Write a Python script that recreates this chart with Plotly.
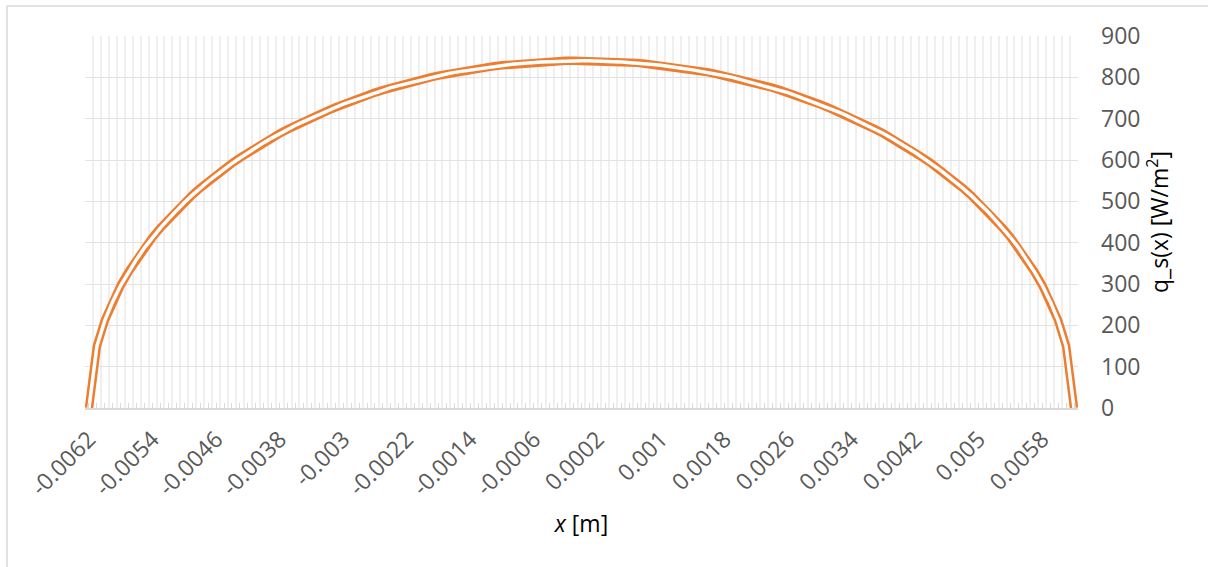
import plotly.graph_objects as go

# Category values of x [m]
x_vals = [
    -0.0062, -0.0061, -0.0060, -0.0059, -0.0058, -0.0057, -0.0056, -0.0055, -0.0054, -0.0053,
    -0.0052, -0.0051, -0.0050, -0.0049, -0.0048, -0.0047, -0.0046, -0.0045, -0.0044, -0.0043,
    -0.0042, -0.0041, -0.0040, -0.0039, -0.0038, -0.0037, -0.0036, -0.0035, -0.0034, -0.0033,
    -0.0032, -0.0031, -0.0030, -0.0029, -0.0028, -0.0027, -0.0026, -0.0025, -0.0024, -0.0023,
    -0.0022, -0.0021, -0.0020, -0.0019, -0.0018, -0.0017, -0.0016, -0.0015, -0.0014, -0.0013,
    -0.0012, -0.0011, -0.0010, -0.0009, -0.0008, -0.0007, -0.0006, -0.0005, -0.0004, -0.0003,
    -0.0002, -0.0001, 0.0000, 0.0001, 0.0002, 0.0003, 0.0004, 0.0005, 0.0006, 0.0007,
    0.0008, 0.0009, 0.0010, 0.0011, 0.0012, 0.0013, 0.0014, 0.0015, 0.0016, 0.0017,
    0.0018, 0.0019, 0.0020, 0.0021, 0.0022, 0.0023, 0.0024, 0.0025, 0.0026, 0.0027,
    0.0028, 0.0029, 0.0030, 0.0031, 0.0032, 0.0033, 0.0034, 0.0035, 0.0036, 0.0037,
    0.0038, 0.0039, 0.0040, 0.0041, 0.0042, 0.0043, 0.0044, 0.0045, 0.0046, 0.0047,
    0.0048, 0.0049, 0.0050, 0.0051, 0.0052, 0.0053, 0.0054, 0.0055, 0.0056, 0.0057,
    0.0058, 0.0059, 0.0060, 0.0061, 0.0062,
]

# q_s(x) [W/m^2]
q_vals = [
    0, 150, 212, 258, 297, 330, 360, 388, 413, 436,
    457, 478, 497, 515, 532, 548, 563, 578, 592, 605,
    618, 630, 642, 653, 664, 674, 684, 693, 702, 711,
    719, 727, 735, 742, 749, 756, 763, 769, 775, 780,
    785, 790, 795, 800, 804, 808, 812, 815, 818, 821,
    824, 827, 829, 831, 833, 835, 836, 837, 838, 839,
    840, 840, 840, 840, 840, 839, 838, 837, 836, 835,
    833, 831, 829, 827, 824, 821, 818, 815, 812, 808,
    804, 800, 795, 790, 785, 780, 775, 769, 763, 756,
    749, 742, 735, 727, 719, 711, 702, 693, 684, 674,
    664, 653, 642, 630, 618, 605, 592, 578, 563, 548,
    532, 515, 497, 478, 457, 436, 413, 388, 360, 330,
    297, 258, 212, 150, 0,
]

tick_labels = [
    "-0.0062", "-0.0054", "-0.0046", "-0.0038", "-0.003", "-0.0022", "-0.0014", "-0.0006",
    "0.0002", "0.001", "0.0018", "0.0026", "0.0034", "0.0042", "0.005", "0.0058",
]

x_pos = list(range(len(x_vals)))
label_lookup = {float(t): t for t in tick_labels}
tick_text = [label_lookup.get(round(v, 4), " ") for v in x_vals]

ORANGE = "#ED7D31"
FONT = "Open Sans"
FS = 23

fig = go.Figure()
# Excel-style double line: thick orange with a thin white core
fig.add_trace(go.Scatter(x=x_pos, y=q_vals, mode="lines",
                         line=dict(color=ORANGE, width=8.5), hoverinfo="skip", showlegend=False))
fig.add_trace(go.Scatter(x=x_pos, y=q_vals, mode="lines",
                         line=dict(color="white", width=3.5), showlegend=False))

fig.update_layout(
    width=1208, height=567,
    margin=dict(l=85, r=130, t=36, b=159),
    paper_bgcolor="white", plot_bgcolor="white",
    font=dict(family=FONT, size=FS, color="#595959"),
    showlegend=False,
    xaxis=dict(
        range=[-0.5, len(x_vals) - 0.5],
        tickmode="array", tickvals=x_pos, ticktext=tick_text,
        tickangle=-45,
        ticks="inside", ticklen=5, tickcolor="#d9d9d9", tickwidth=1,
        showgrid=False, zeroline=False,
        showline=True, linecolor="#d9d9d9", linewidth=1.5,
        tickfont=dict(size=FS, color="#595959"),
        ticklabelstandoff=7,
        minor=dict(tickmode="linear", tick0=-0.5, dtick=1, showgrid=True,
                   gridcolor="#efefef", gridwidth=1.5, ticks=""),
        title=dict(text="<i>x</i> [m]", font=dict(size=FS, color="#000000"), standoff=15),
    ),
    yaxis=dict(
        side="right",
        range=[0, 900], tickmode="linear", tick0=0, dtick=100,
        showgrid=True, gridcolor="#e2e2e2", gridwidth=1,
        zeroline=False, showline=False, ticks="",
        tickfont=dict(size=FS, color="#595959"),
        ticklabelstandoff=22,
        title=dict(text="q_s(x) [W/m<sup>2</sup>]", font=dict(size=FS, color="#000000"), standoff=12),
    ),
    shapes=[
        dict(type="line", xref="paper", yref="paper",
             x0=(7 - 85) / 993, x1=(1208 - 85) / 993, y0=(408 - 6) / 372, y1=(408 - 6) / 372,
             line=dict(color="#d9d9d9", width=1.5)),
        dict(type="line", xref="paper", yref="paper",
             x0=(7 - 85) / 993, x1=(7 - 85) / 993, y0=(408 - 6) / 372, y1=(408 - 567) / 372,
             line=dict(color="#d9d9d9", width=1.5)),
    ],
)

fig.write_html("out.html")
